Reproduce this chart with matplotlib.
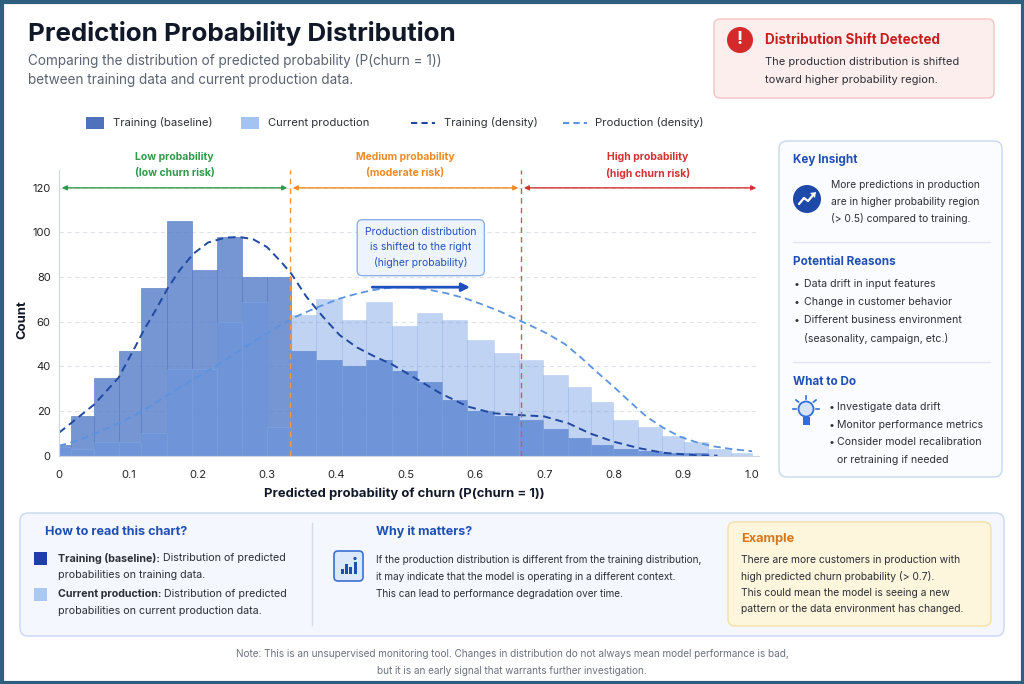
import matplotlib
matplotlib.use("Agg")
import matplotlib.pyplot as plt
from matplotlib.patches import FancyBboxPatch, Rectangle, Circle, Polygon
import numpy as np

plt.rcParams["font.family"] = ["Inter", "DejaVu Sans"]

# ---------------------------------------------------------------------------
# data
# ---------------------------------------------------------------------------
bin_edges = [0.0, 0.017, 0.051, 0.086, 0.119, 0.156, 0.192, 0.228, 0.264, 0.300,
             0.335, 0.371, 0.408, 0.443, 0.480, 0.516, 0.552, 0.589, 0.627, 0.664,
             0.699, 0.734, 0.768, 0.800, 0.835, 0.870, 0.902, 0.936, 0.970, 1.0]
train_counts = [5, 18, 35, 47, 75, 105, 83, 98, 80, 80,
                47, 43, 40, 43, 38, 33, 25, 20, 18, 16,
                12, 8, 5, 3, 2, 1, 1, 0, 0]
prod_counts = [4, 3, 6, 6, 10, 39, 39, 60, 69, 13,
               63, 70, 61, 69, 58, 64, 61, 52, 46, 43,
               36, 31, 24, 16, 13, 9, 6, 3, 1]

train_kde_x = [0.0, 0.017, 0.051, 0.086, 0.11, 0.122, 0.139, 0.158, 0.175, 0.194,
               0.215, 0.24, 0.26, 0.28, 0.30, 0.32, 0.335, 0.357, 0.381, 0.405,
               0.43, 0.455, 0.48, 0.51, 0.55, 0.59, 0.627, 0.665, 0.70, 0.735,
               0.766, 0.80, 0.838, 0.872, 0.92, 0.95]
train_kde_y = [10.3, 14.5, 23, 35, 48.8, 56, 65, 75.6, 83.5, 90.5,
               95.5, 97.7, 98, 97, 93.5, 87, 81.6, 71.2, 62.2, 54,
               48.5, 44.5, 41, 35.5, 28, 22, 19, 18.2, 17.6, 14.5,
               10, 6.3, 3.3, 1.3, 0.2, 0]
prod_kde_x = [0.0, 0.017, 0.051, 0.086, 0.119, 0.157, 0.192, 0.229, 0.265, 0.30,
              0.336, 0.372, 0.405, 0.43, 0.453, 0.475, 0.50, 0.53, 0.56, 0.585,
              0.607, 0.635, 0.664, 0.704, 0.73, 0.752, 0.776, 0.80, 0.825, 0.848,
              0.872, 0.896, 0.92, 0.944, 0.97, 1.0]
prod_kde_y = [4.5, 5.8, 9.7, 14.5, 19.7, 27.2, 33.9, 40.6, 48, 54.8,
              61.5, 66.4, 70.4, 72.6, 74.2, 75.2, 75.6, 74.6, 72.7, 70.6,
              68.2, 64.8, 60.7, 54.8, 50, 44.3, 37.5, 31, 23.8, 17.4,
              12.5, 8.5, 6, 4.2, 3, 2]

region_bounds = [0.0, 1 / 3, 2 / 3, 1.01]
region_titles = ["Low probability", "Medium probability", "High probability"]
region_subs = ["(low churn risk)", "(moderate risk)", "(high churn risk)"]
region_colors = ["#2e9a4a", "#f08a24", "#d63030"]

x_ticks = [0, 0.1, 0.2, 0.3, 0.4, 0.5, 0.6, 0.7, 0.8, 0.9, 1.0]
x_tick_labels = ["0", "0.1", "0.2", "0.3", "0.4", "0.5", "0.6", "0.7", "0.8", "0.9", "1.0"]
y_ticks = [0, 20, 40, 60, 80, 100, 120]

TRAIN_C = "#5d83cc"
PROD_C = "#6996e1"
BLUE_T = "#1f4fb5"
DARK = "#2b2f36"

# ---------------------------------------------------------------------------
# canvas: a pixel-space background axes for cards / text
# ---------------------------------------------------------------------------
W, H = 1024, 684
fig = plt.figure(figsize=(W / 100, H / 100), dpi=100)
bg = fig.add_axes([0, 0, 1, 1], zorder=0)
bg.set_xlim(0, W)
bg.set_ylim(H, 0)
bg.axis("off")


def card(x0, y0, x1, y1, fc, ec, r=7, lw=1.0):
    bg.add_patch(FancyBboxPatch((x0, y0), x1 - x0, y1 - y0,
                                boxstyle=f"round,pad=0,rounding_size={r}",
                                fc=fc, ec=ec, lw=lw))


def txt(x, y, s, size=8, color=DARK, weight="normal", ha="left", **kw):
    return bg.text(x, y, s, fontsize=size, color=color, fontweight=weight,
                   ha=ha, va="center", **kw)


# outer frame
bg.add_patch(Rectangle((1.5, 1.5), W - 3, H - 3, fc="white", ec="#2e5f7f", lw=3))

# title block
txt(28, 33, "Prediction Probability Distribution", size=18.7, color="#111827", weight="bold")
txt(28, 61, "Comparing the distribution of predicted probability (P(churn = 1))",
    size=9.75, color="#5b6472")
txt(28, 80, "between training data and current production data.", size=9.75, color="#5b6472")

# alert card
card(714, 19, 994, 98, "#fdeeee", "#f5c4c4", r=6)
bg.add_patch(Circle((740, 40), 13, fc="#d42a2a", ec="none"))
txt(740, 40, "!", size=13, color="white", weight="bold", ha="center")
txt(765, 40, "Distribution Shift Detected", size=9.7, color="#c81e1e", weight="bold")
txt(765, 62, "The production distribution is shifted", size=8)
txt(765, 80, "toward higher probability region.", size=8)

# legend row
bg.add_patch(Rectangle((86, 117), 18, 12, fc="#4e72bb", ec="none"))
txt(113, 123, "Training (baseline)", size=8.1)
bg.add_patch(Rectangle((241, 117), 18, 12, fc="#a3c4f0", ec="none"))
txt(268, 123, "Current production", size=8.1)
bg.plot([411, 435], [123, 123], color="#2148a3", lw=1.5, ls=(0, (3, 2)))
txt(444, 123, "Training (density)", size=8.1)
bg.plot([563, 587], [123, 123], color="#5b93e0", lw=1.5, ls=(0, (3, 2)))
txt(595, 123, "Production (density)", size=8.1)

# ---------------------------------------------------------------------------
# histogram axes
# ---------------------------------------------------------------------------
ax = fig.add_axes([59 / W, 1 - 455.7 / H, 700 / W, 285.7 / H], zorder=1)
ax.patch.set_alpha(0)

widths = np.diff(bin_edges)
ax.bar(bin_edges[:-1], train_counts, width=widths, align="edge",
       color=TRAIN_C, alpha=0.85, edgecolor="#5479c2", lw=0.5)
ax.bar(bin_edges[:-1], prod_counts, width=widths, align="edge",
       color=PROD_C, alpha=0.42, edgecolor="#8fb5ea", lw=0.5)

ax.plot(train_kde_x, train_kde_y, color="#2148a3", lw=1.4, ls=(0, (4, 2.5)))
ax.plot(prod_kde_x, prod_kde_y, color="#5b93e0", lw=1.3, ls=(0, (4, 2.5)))

ax.set_xlim(0, 1.01)
ax.set_ylim(0, 128)
ax.set_xticks(x_ticks, x_tick_labels)
ax.set_yticks(y_ticks)
ax.tick_params(length=0, labelsize=8, colors="#222222")
ax.tick_params(axis="x", pad=10)
ax.tick_params(axis="y", pad=6)
ax.grid(axis="y", ls=(0, (4, 3)), color="#dfe3ea", lw=0.8)
ax.set_axisbelow(True)
for side in ("top", "right"):
    ax.spines[side].set_visible(False)
for side in ("left", "bottom"):
    ax.spines[side].set_color("#cfd6e2")

ax.set_xlabel("Predicted probability of churn (P(churn = 1))", fontsize=9.4,
              fontweight="bold", color="#111827", va="center")
ax.xaxis.set_label_coords(0.4936, -0.134)
ax.set_ylabel("Count", fontsize=9.4, fontweight="bold", color="#111827", va="center")
ax.yaxis.set_label_coords(-0.053, 0.475)

# risk regions
for i in range(3):
    lo, hi = region_bounds[i], region_bounds[i + 1]
    c = region_colors[i]
    ax.annotate("", xy=(lo + 0.004, 120), xytext=(hi - 0.004, 120),
                arrowprops=dict(arrowstyle="<|-|>", color=c, lw=1,
                                mutation_scale=7, shrinkA=0, shrinkB=0))
    mid = 0.85 if i == 2 else (lo + hi) / 2
    ax.text(mid, 134, region_titles[i], color=c, fontsize=7.5, fontweight="bold",
            ha="center", va="center")
    ax.text(mid, 126.5, region_subs[i], color=c, fontsize=7.5, fontweight="bold",
            ha="center", va="center")
ax.vlines(region_bounds[1], 0, 128, colors="#f39a3c", ls=(0, (4, 3)), lw=1)
ax.vlines(region_bounds[2], 0, 128, colors="#e05252", ls=(0, (4, 3)), lw=1)

# shift callout
ax.text(0.522, 93.2, "Production distribution\nis shifted to the right\n(higher probability)",
        fontsize=7.5, color="#2450b8", ha="center", va="center", linespacing=1.55,
        bbox=dict(boxstyle="round,pad=0.75,rounding_size=0.5", fc="#eef4fd", ec="#8fb0e6", lw=1))
ax.annotate("", xy=(0.593, 75.5), xytext=(0.452, 75.5),
            arrowprops=dict(arrowstyle="-|>", color="#1f4fbf", lw=2,
                            mutation_scale=12, shrinkA=0, shrinkB=0))

# ---------------------------------------------------------------------------
# right side panel
# ---------------------------------------------------------------------------
card(779, 141, 1002, 477, "#fbfcff", "#c8d8f0", r=8)
txt(793, 160, "Key Insight", size=8.4, color=BLUE_T, weight="bold")
bg.add_patch(Circle((807, 199), 14, fc="#1d4aa8", ec="none"))
bg.plot([799, 804, 808, 814], [204, 198, 201, 194], color="white", lw=1.6,
        solid_capstyle="round", solid_joinstyle="round")
bg.add_patch(Polygon([[816, 192], [810, 193], [815, 198]], closed=True, fc="white", ec="none"))
txt(831, 185, "More predictions in production", size=7.4)
txt(831, 202, "are in higher probability region", size=7.4)
txt(831, 219, "(> 0.5) compared to training.", size=7.4)
bg.plot([793, 990], [242, 242], color="#dfe6f2", lw=1)

txt(793, 262, "Potential Reasons", size=8.4, color=BLUE_T, weight="bold")
for yy, s in zip([284, 302, 320], ["Data drift in input features",
                                   "Change in customer behavior",
                                   "Different business environment"]):
    txt(794, yy, "\u2022", size=7.6)
    txt(804, yy, s, size=7.6)
txt(804, 338, "(seasonality, campaign, etc.)", size=7.6)
bg.plot([793, 990], [362, 362], color="#dfe6f2", lw=1)

txt(793, 382, "What to Do", size=8.4, color=BLUE_T, weight="bold")
bg.add_patch(Circle((806, 409), 7.5, fc="#d5e4fb", ec="#2f6fdc", lw=1.3))
bg.add_patch(Rectangle((802.5, 417), 7, 8, fc="#2f6fdc", ec="none"))
for (x0, y0, x1, y1) in [(806, 396, 806, 399), (796, 400, 798.5, 402), (816, 400, 813.5, 402),
                         (793, 409, 796, 409), (816, 409, 819, 409)]:
    bg.plot([x0, x1], [y0, y1], color="#2f6fdc", lw=1.2)
for yy, s in zip([407, 425, 442], ["Investigate data drift",
                                   "Monitor performance metrics",
                                   "Consider model recalibration"]):
    txt(829, yy, "\u2022", size=7.6)
    txt(837, yy, s, size=7.6)
txt(837, 460, "or retraining if needed", size=7.6)

# ---------------------------------------------------------------------------
# bottom explanation panel
# ---------------------------------------------------------------------------
card(20, 513, 1004, 636, "#f4f7fd", "#c8d8f0", r=8)
txt(45, 532, "How to read this chart?", size=9.1, color=BLUE_T, weight="bold")

renderer = fig.canvas.get_renderer()


def bold_then_plain(x, y, bold, plain, size):
    t = txt(x, y, bold, size=size, weight="bold")
    x_end = t.get_window_extent(renderer=renderer).x1
    txt(x_end, y, plain, size=size)


bg.add_patch(Rectangle((34, 552), 13, 13, fc="#1f3fa8", ec="none"))
bold_then_plain(58, 558, "Training (baseline):", " Distribution of predicted", 7.7)
txt(58, 575, "probabilities on training data.", size=7.7)
bg.add_patch(Rectangle((34, 588), 13, 13, fc="#a9c8f2", ec="none"))
bold_then_plain(58, 594, "Current production:", " Distribution of predicted", 7.7)
txt(58, 611, "probabilities on current production data.", size=7.7)

bg.plot([312, 312], [523, 625], color="#d5dce8", lw=1)

txt(376, 532, "Why it matters?", size=9.0, color=BLUE_T, weight="bold")
card(334, 551, 363, 581, "#dce8fb", "#3c6fd4", r=4, lw=1.2)
for bx, bh in zip([340.5, 344.5, 348.5, 353.5], [5, 10, 7, 12]):
    bg.add_patch(Rectangle((bx, 574 - bh), 3, bh, fc=BLUE_T, ec="none"))
bg.add_patch(Circle((355, 558.5), 1.6, fc=BLUE_T, ec="none"))
txt(376, 560, "If the production distribution is different from the training distribution,", size=7.2)
txt(376, 577, "it may indicate that the model is operating in a different context.", size=7.2)
txt(376, 594, "This can lead to performance degradation over time.", size=7.2)

card(728, 522, 991, 626, "#fdf5dc", "#f3e0a6", r=7)
txt(741, 539, "Example", size=9.2, color="#d9771a", weight="bold")
txt(741, 560, "There are more customers in production with", size=7.45)
txt(741, 577, "high predicted churn probability (> 0.7).", size=7.45)
txt(741, 593, "This could mean the model is seeing a new", size=7.45)
txt(741, 609, "pattern or the data environment has changed.", size=7.45)

txt(512, 654, "Note: This is an unsupervised monitoring tool. Changes in distribution do not "
    "always mean model performance is bad,", size=7.2, color="#6b7280", ha="center")
txt(512, 671, "but it is an early signal that warrants further investigation.",
    size=7.2, color="#6b7280", ha="center")

fig.savefig("out.png", dpi=100)
